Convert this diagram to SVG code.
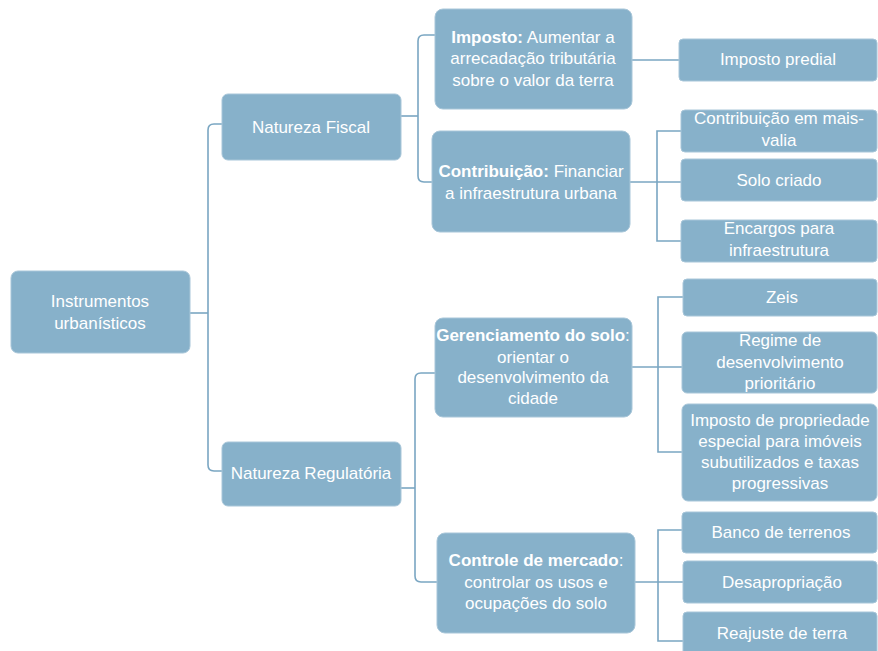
<svg xmlns="http://www.w3.org/2000/svg" width="878" height="651" viewBox="0 0 878 651">
<style>
.box{fill:#87b1ca;stroke:#a8c6d9;stroke-width:1}
.t{font-family:"Liberation Sans",Arial,sans-serif;font-size:17px;fill:#ffffff;text-anchor:middle;dominant-baseline:central}
.b{font-weight:bold}
.c{fill:none;stroke:#7aa6c2;stroke-width:1.6}
</style>
<rect width="878" height="651" fill="#ffffff"/>
<g id="connectors">
<path class="c" d="M190,313 H208"/>
<path class="c" d="M222,124 H214 Q208,124 208,130 V465 Q208,471 214,471 H222"/>
<path class="c" d="M401,116 H418"/>
<path class="c" d="M435,35 H424 Q418,35 418,41 V176 Q418,182 424,182 H432"/>
<path class="c" d="M632,60 H679"/>
<path class="c" d="M630,182 H681"/>
<path class="c" d="M681,131 H657 V241 H681"/>
<path class="c" d="M401,488 H415"/>
<path class="c" d="M435,373 H421 Q415,373 415,379 V576 Q415,582 421,582 H437"/>
<path class="c" d="M632,367 H682"/>
<path class="c" d="M683,297 H658 V452 H682"/>
<path class="c" d="M635,582 H683"/>
<path class="c" d="M682,530 H658 V641 H683"/>
</g>
<g id="root">
<rect class="box" x="11" y="271" width="179" height="82" rx="7"/>
<text class="t" x="100" y="301">Instrumentos</text>
<text class="t" x="100" y="323">urbanísticos</text>
</g>
<g id="natureza-fiscal">
<rect class="box" x="222" y="94" width="179" height="66" rx="6"/>
<text class="t" x="311" y="127">Natureza Fiscal</text>
</g>
<g id="natureza-regulatoria">
<rect class="box" x="222" y="442" width="179" height="64" rx="6"/>
<text class="t" x="311" y="473">Natureza Regulatória</text>
</g>
<g id="imposto">
<rect class="box" x="435" y="9" width="197" height="100" rx="8"/>
<text class="t" x="533" y="37"><tspan class="b">Imposto:</tspan> Aumentar a</text>
<text class="t" x="533" y="58">arrecadação tributária</text>
<text class="t" x="533" y="80">sobre o valor da terra</text>
</g>
<g id="contribuicao">
<rect class="box" x="432" y="131" width="198" height="101" rx="8"/>
<text class="t" x="531" y="171"><tspan class="b">Contribuição:</tspan> Financiar</text>
<text class="t" x="531" y="193">a infraestrutura urbana</text>
</g>
<g id="gerenciamento">
<rect class="box" x="435" y="318" width="197" height="99" rx="8"/>
<text class="t" x="533" y="335"><tspan class="b">Gerenciamento do solo</tspan>:</text>
<text class="t" x="533" y="357">orientar o</text>
<text class="t" x="533" y="377">desenvolvimento da</text>
<text class="t" x="533" y="398">cidade</text>
</g>
<g id="controle">
<rect class="box" x="437" y="533" width="198" height="100" rx="8"/>
<text class="t" x="536" y="560"><tspan class="b">Controle de mercado</tspan>:</text>
<text class="t" x="536" y="582">controlar os usos e</text>
<text class="t" x="536" y="603">ocupações do solo</text>
</g>
<g id="imposto-predial">
<rect class="box" x="679" y="39" width="198" height="42" rx="4"/>
<text class="t" x="778" y="59">Imposto predial</text>
</g>
<g id="mais-valia">
<rect class="box" x="681" y="110" width="196" height="42" rx="4"/>
<text class="t" x="779" y="118">Contribuição em mais-</text>
<text class="t" x="779" y="140">valia</text>
</g>
<g id="solo-criado">
<rect class="box" x="681" y="159" width="196" height="42" rx="4"/>
<text class="t" x="779" y="180">Solo criado</text>
</g>
<g id="encargos">
<rect class="box" x="681" y="220" width="196" height="42" rx="4"/>
<text class="t" x="779" y="228">Encargos para</text>
<text class="t" x="779" y="250">infraestrutura</text>
</g>
<g id="zeis">
<rect class="box" x="683" y="279" width="194" height="37" rx="4"/>
<text class="t" x="782" y="297">Zeis</text>
</g>
<g id="regime">
<rect class="box" x="682" y="332" width="195" height="61" rx="5"/>
<text class="t" x="780" y="340">Regime de</text>
<text class="t" x="780" y="362">desenvolvimento</text>
<text class="t" x="780" y="383">prioritário</text>
</g>
<g id="imposto-propriedade">
<rect class="box" x="682" y="404" width="195" height="97" rx="6"/>
<text class="t" x="780" y="420">Imposto de propriedade</text>
<text class="t" x="780" y="441">especial para imóveis</text>
<text class="t" x="780" y="462">subutilizados e taxas</text>
<text class="t" x="780" y="483">progressivas</text>
</g>
<g id="banco">
<rect class="box" x="682" y="512" width="195" height="41" rx="4"/>
<text class="t" x="781" y="532">Banco de terrenos</text>
</g>
<g id="desapropriacao">
<rect class="box" x="683" y="561" width="194" height="42" rx="4"/>
<text class="t" x="782" y="582">Desapropriação</text>
</g>
<g id="reajuste">
<rect class="box" x="683" y="612" width="194" height="45" rx="4"/>
<text class="t" x="782" y="633">Reajuste de terra</text>
</g>
</svg>
